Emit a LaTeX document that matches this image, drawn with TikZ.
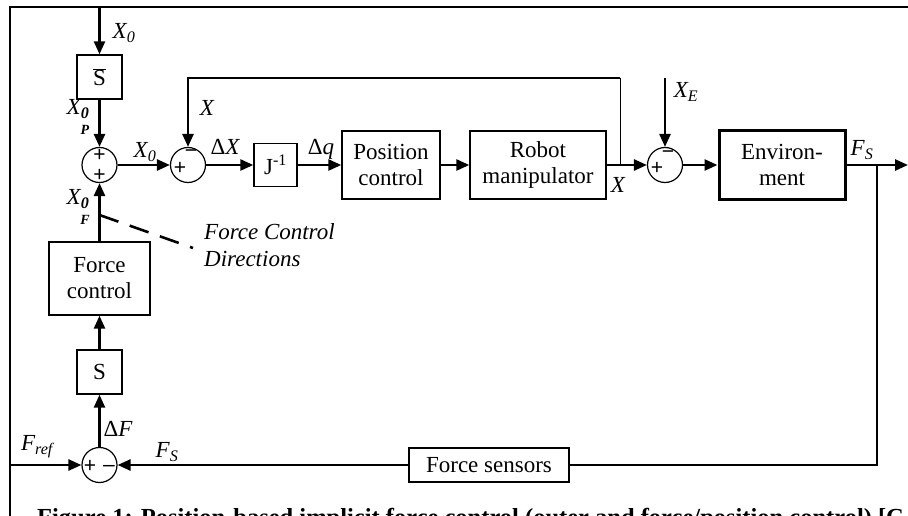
\documentclass[tikz,border=0pt]{standalone}
\usepackage{fontspec}
\setmainfont{Liberation Serif}
\newfontfamily\signfont{Liberation Sans}
\usetikzlibrary{arrows.meta}
\begin{document}
\begin{tikzpicture}[x=1pt,y=-1pt,
  txt/.style={font=\fontsize{23}{26}\selectfont},
  blk/.style={draw,line width=1.4pt,inner sep=0,align=center,txt},
  sumc/.style={draw,circle,line width=1.2pt,minimum size=35pt,inner sep=0},
  sig/.style={line width=2.6pt,-{Triangle[length=13pt,width=11pt]}},
  wire/.style={line width=2.6pt},
  thinwire/.style={line width=0.8pt},
  lab/.style={font=\fontsize{23}{27}\selectfont\itshape,inner sep=0},
  tinylab/.style={font=\fontsize{14}{14}\selectfont\bfseries\itshape,inner sep=0},
  pm/.style={font=\signfont\fontsize{21}{21}\selectfont,inner sep=0},
  frameline/.style={line width=2pt},
  dashline/.style={line width=2.6pt,dash pattern=on 20pt off 12pt}]
\useasboundingbox (0,0) rectangle (908,516);

% frame
\draw[frameline] (10,516) -- (10,7) -- (908,7);

% blocks
\node[blk,minimum width=45pt,minimum height=44pt] (sbar) at (99.5,77) {$\overline{\mbox{S}}$};
\node[sumc] (s1) at (99.5,165) {};
\node[sumc] (s2) at (188,165) {};
\node[blk,minimum width=43pt,minimum height=43pt] (J) at (275.5,165) {J\textsuperscript{-1}};
\node[blk,minimum width=98pt,minimum height=68pt] (pc) at (391,165) {Position\\control};
\node[blk,minimum width=136pt,minimum height=68pt] (rm) at (538,165) {Robot\\manipulator};
\node[sumc] (s3) at (665,165) {};
\node[blk,line width=3pt,minimum width=126pt,minimum height=69pt] (env) at (782,165) {Environ-\\ment};
\node[blk,minimum width=101pt,minimum height=73pt] (fc) at (99.5,278.5) {Force\\control};
\node[blk,minimum width=45pt,minimum height=44pt] (s) at (99.5,372) {S};
\node[sumc] (s4) at (99.5,465) {};
\node[blk,minimum width=160pt,minimum height=34pt] (fs) at (489,465) {Force sensors};

% signs
\node[pm] (p1a) at (99.5,155) {+};
\node[pm] (p1b) at (99.5,175) {+};
\node[pm] (p2a) at (180,168) {+};
\node[pm] (p2b) at (191,154) {−};
\node[pm] (p3a) at (657,168) {+};
\node[pm] (p3b) at (668,155) {−};
\node[pm] (p4a) at (90,466) {+};
\node[pm] (p4b) at (109,468) {–};

% coordinates
\coordinate (top0) at (99.5,7);
\coordinate (fbR) at (620,165);
\coordinate (fbTR) at (620,78);
\coordinate (fbTL) at (188,78);
\coordinate (xe) at (665,78);
\coordinate (outR) at (908,165);
\coordinate (br) at (877,165);
\coordinate (brB) at (877,465);
\coordinate (frefL) at (10,465);
\coordinate (d1) at (99.5,215);
\coordinate (d2) at (193,248);

% connectors
\draw[sig] (top0) -- (sbar);
\draw[sig] (sbar) -- (s1);
\draw[sig] (fc) -- (s1);
\draw[sig] (s) -- (fc);
\draw[sig] (s4) -- (s);
\draw[sig] (s1) -- (s2);
\draw[sig] (s2) -- (J);
\draw[sig] (J) -- (pc);
\draw[sig] (pc) -- (rm);
\draw[sig] (rm) -- (s3);
\draw[sig] (s3) -- (env);
\draw[sig] (env) -- (outR);
\draw[wire] (br) -- (brB) -- (fs);
\draw[sig] (fs) -- (s4);
\draw[sig] (frefL) -- (s4);
\draw[thinwire] (fbR) -- (fbTR);
\draw[sig] (fbTR) -- (fbTL) -- (s2);
\draw[sig] (xe) -- (s3);
\draw[dashline] (d1) -- (d2);

% labels
\node[lab] (lx0) at (124,33) {X\textsubscript{0}};
\node[lab] (lx0p) at (78,109) {X\textsubscript{\textbf{0}}};
\node[tinylab] (lp) at (85,130) {P};
\node[lab] (lx0f) at (78,199) {X\textsubscript{\textbf{0}}};
\node[tinylab] (lf) at (85,220) {F};
\node[lab] (lx0m) at (145,152) {X\textsubscript{0}};
\node[lab] (lxfb) at (207,108) {X};
\node[lab] (ldx) at (225,147) {{\upshape Δ}X};
\node[lab] (ldq) at (321,149) {{\upshape Δ}q};
\node[lab] (lxo) at (618,185) {X};
\node[lab] (lxe) at (686,92) {X\textsubscript{E}};
\node[lab] (lfs) at (862,150) {F\textsubscript{S}};
\node[lab,align=left,anchor=west] (lfcd) at (204,245) {Force Control\\Directions};
\node[lab] (lfref) at (37,447) {F\textsubscript{ref}};
\node[lab] (lfs2) at (167,452) {F\textsubscript{S}};
\node[lab] (ldf) at (118,429) {{\upshape Δ}F};

% caption (cut off at the bottom edge, as in the source)
\node[font=\bfseries\fontsize{24.5}{25}\selectfont,anchor=base west,inner sep=0] (cap) at (37,525) {Figure 1: Position-based implicit force control (outer and force/position control) [C};
\end{tikzpicture}
\end{document}
